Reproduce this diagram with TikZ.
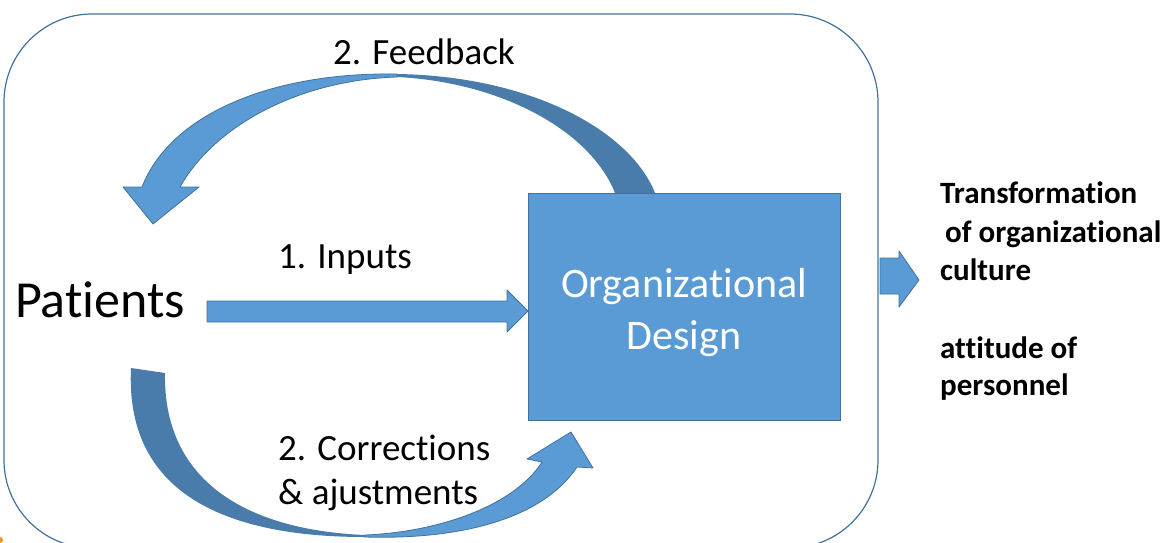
\documentclass[tikz,border=0pt]{standalone}
\usepackage{fontspec}
\setmainfont{Carlito}[Ligatures=CommonOff]
\definecolor{arrowblue}{HTML}{5B9BD5}
\definecolor{edgeblue}{HTML}{41719C}
\definecolor{shadeblue}{HTML}{497CAA}
\begin{document}
\begin{tikzpicture}[x=1pt,y=-1pt,
  light/.style={fill=arrowblue, draw=edgeblue, line width=0.8pt, line join=round},
  dark/.style={fill=shadeblue, draw=none},
  lbl/.style={inner sep=0pt, anchor=base west, font=\fontsize{37}{44}\selectfont},
  outcome/.style={inner sep=0pt, anchor=base west, font=\fontsize{31}{38}\selectfont\bfseries},
  designtxt/.style={inner sep=0pt, anchor=base, text=white, font=\fontsize{42}{52}\selectfont}]
\useasboundingbox (0,0) rectangle (1172,543);

% outer frame
\draw[edgeblue, line width=1.2pt, rounded corners=88pt] (4,14) rectangle (878,548);
\fill[orange!85!yellow] (0,540) circle (3);

% feedback arrow: shaded back half, then lit half with head
\fill[dark] (397,74) .. controls (530,76) and (630,130) .. (655,193)
  -- (615,193) .. controls (590,130) and (500,82) .. (397,77) -- cycle;
\filldraw[light] (397,74) .. controls (270,72) and (170,115) .. (142,187)
  -- (123,187) -- (153,224) -- (199,187) -- (180,187)
  .. controls (215,125) and (300,80) .. (397,77) -- cycle;

% corrections arrow
\fill[dark] (131,368) .. controls (125,490) and (220,537) .. (365,537)
  -- (365,535) .. controls (245,530) and (163,480) .. (165,373) -- cycle;
\filldraw[light] (365,537) .. controls (470,540) and (545,515) .. (577,467)
  -- (593,468) -- (571,432) -- (527,459) -- (542,462)
  .. controls (515,505) and (440,532) .. (365,535) -- cycle;

% organizational design block
\node[draw=edgeblue, fill=arrowblue, line width=0.8pt, inner sep=0pt,
  minimum width=312pt, minimum height=227pt, anchor=north west] (od) at (528,193) {};
\node[designtxt] (od1) at (684,297) {Organizational};
\node[designtxt] (od2) at (684,349) {Design};

% inputs arrow
\filldraw[light] (207,301) -- (507,301) -- (507,290) -- (od.west |- 0,311)
  -- (507,332) -- (507,322) -- (207,322) -- cycle;

% outcome arrow
\filldraw[light] (880,258) -- (899,258) -- (899,251) -- (919,280)
  -- (899,307) -- (899,294) -- (880,294) -- cycle;

% labels
\node[lbl] (fb) at (333,65) {2. Feedback};
\node[lbl] (inp) at (278,268) {1. Inputs};
\node[lbl, font=\fontsize{52}{60}\selectfont] (pat) at (15,317) {Patients};
\node[lbl] (cor1) at (278,460) {2. Corrections};
\node[lbl] (cor2) at (278,504) {\& ajustments};

\node[outcome] (o1) at (940,203) {Transformation};
\node[outcome] (o2) at (945,242) {of organizational};
\node[outcome] (o3) at (940,280) {culture};
\node[outcome] (o4) at (940,358) {attitude of};
\node[outcome] (o5) at (940,395) {personnel};
\end{tikzpicture}
\end{document}
